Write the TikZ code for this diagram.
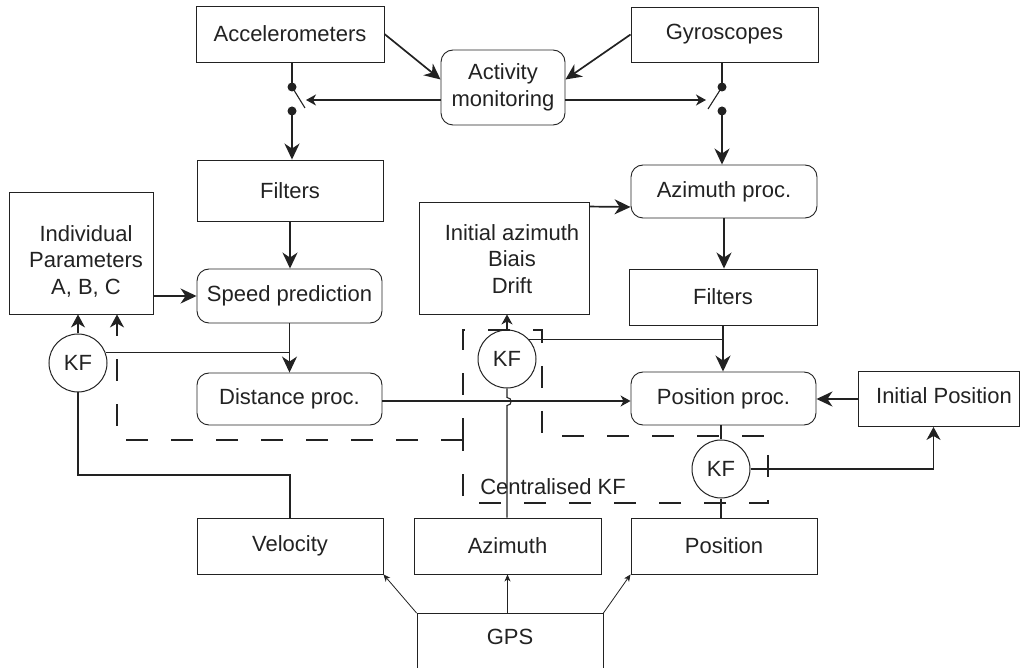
\documentclass[tikz,border=0pt]{standalone}
\usepackage{fontspec}
\setmainfont{Liberation Sans}
\usetikzlibrary{arrows.meta,calc}
\newcommand\dfont{\fontsize{22}{26.5}\selectfont}
\definecolor{ink}{HTML}{222222}
\begin{document}
\begin{tikzpicture}[x=1pt,y=-1pt, color=ink,
  box/.style={draw, line width=0.9pt, inner sep=0pt, align=center, font=\dfont},
  rbox/.style={box, rounded corners=12pt},
  kfn/.style={draw, circle, line width=1pt, minimum size=58pt, inner sep=0pt, font=\dfont},
  txt/.style={inner sep=0pt, align=center, font=\dfont},
  ln/.style={line width=1.1pt},
  bigarr/.style={line width=1.7pt, -{Stealth[length=16pt,width=15pt,inset=5pt]}},
  midarr/.style={line width=1.1pt, -{Stealth[length=13pt,width=14pt,inset=4pt]}},
  smallarr/.style={line width=1.1pt, -{Stealth[length=10pt,width=11pt,inset=3pt]}},
  tinyarr/.style={line width=0.8pt, -{Stealth[length=7pt,width=6pt,inset=2pt]}},
  dsh/.style={line width=1.4pt, dash pattern=on 22pt off 23pt},
  dot/.style={circle, fill, inner sep=0pt, minimum size=9pt},
]
\useasboundingbox (0,0) rectangle (1021,668);

% boxes
\node[box, minimum width=188pt, minimum height=56pt] (acc) at (290,34) {Accelerometers};
\node[box, minimum width=187pt, minimum height=55pt] (gyro) at (724.5,34.5) {Gyroscopes};
\node[rbox, minimum width=124pt, minimum height=75pt] (act) at (503,87.5) {Activity\\monitoring};
\node[box, minimum width=186pt, minimum height=61pt] (filt1) at (290,190.5) {Filters};
\node[box, minimum width=144pt, minimum height=122pt] (ind) at (81,253) {};
\node[txt] (indt) at (86,261) {Individual\\Parameters\\A, B, C};
\node[rbox, minimum width=185pt, minimum height=54pt] (speed) at (289.5,296) {Speed prediction};
\node[rbox, minimum width=185pt, minimum height=52pt] (dist) at (289.5,399) {Distance proc.};
\node[box, minimum width=170pt, minimum height=112pt] (inaz) at (504,258) {};
\node[txt] (inazt) at (512,259) {Initial azimuth\\Biais\\Drift};
\node[rbox, minimum width=186pt, minimum height=53pt] (az) at (724,191.5) {Azimuth proc.};
\node[box, minimum width=188pt, minimum height=56pt] (filt2) at (723,297) {Filters};
\node[rbox, minimum width=185pt, minimum height=53pt] (pos) at (723.5,398.5) {Position proc.};
\node[box, minimum width=161pt, minimum height=55pt] (inpos) at (938.5,399) {};
\node[txt] (inpost) at (944,396) {Initial Position};
\node[kfn] (kf1) at (78,363) {KF};
\node[kfn] (kf2) at (507,359) {KF};
\node[kfn] (kf3) at (721,469) {KF};
\node[box, minimum width=186pt, minimum height=56pt] (vel) at (290,546) {Velocity};
\node[box, minimum width=187pt, minimum height=56pt] (gaz) at (507.5,546) {Azimuth};
\node[box, minimum width=186pt, minimum height=56pt] (gpos) at (724,546) {Position};
\node[box, anchor=north, minimum width=186pt, minimum height=120pt] (gps) at (510,613) {};
\node[txt] (gpst) at (510,637) {GPS};
\node[txt] (cent) at (553,487) {Centralised KF};

% switches
\node[dot] (s1a) at (292,87) {};
\node[dot] (s1b) at (292,111) {};
\coordinate (s1c) at (305,108);
\coordinate (s1t) at (306,100);
\draw[ln] (s1a |- acc.south) -- (s1a.center);
\draw[ln] (s1a.center) -- (s1c);
\draw[smallarr] ([yshift=-12.5pt]act.west) -- (s1t);
\draw[bigarr] (s1b.center) -- (s1b |- filt1.north);

\node[dot] (s2a) at (722,87) {};
\node[dot] (s2b) at (722,111) {};
\coordinate (s2c) at (708,109);
\coordinate (s2t) at (706,100);
\draw[ln] (s2a |- gyro.south) -- (s2a.center);
\draw[ln] (s2c) -- (s2a.center);
\draw[smallarr] ([yshift=-12.5pt]act.east) -- (s2t);
\draw[bigarr] (s2b.center) -- (s2b |- az.north);

% top arrows
\draw[bigarr] (acc.east) -- ([yshift=8pt]act.west);
\draw[bigarr] (gyro.west) -- ([yshift=8pt]act.east);

% left column
\draw[bigarr] (filt1.south) -- (filt1.south |- speed.north);
\draw[bigarr] (ind.east |- speed.west) -- (speed.west);
\draw[bigarr] (speed.south) -- (speed.south |- dist.north);
\draw[ln] (kf1.20) -- (kf1.20 -| speed.south);
\draw[midarr] (kf1.north) -- (kf1.north |- ind.south);
\coordinate (vj) at (290,475);
\draw[ln] (vel.north) -- (vj) -| (kf1.south);

% dashed centralised KF
\coordinate (d1) at (463,440);
\coordinate (d2) at (117,440);
\draw[dsh, -{Stealth[length=13pt,width=14pt,inset=4pt]}] (d1) -- (d2) -- (d2 |- ind.south);
\draw[dsh] (463,440) -- (463,330) -- (542,330) -- (542,436) -- (768,436) -- (768,503) -- (463,503) -- (463,440);

% middle
\draw[smallarr] (kf2.north) -- (kf2.north |- inaz.south);
\draw[ln] (kf2.41) -- (kf2.41 -| filt2.south);
\coordinate (h1) at (507,397.5);
\coordinate (h2) at (507,405.5);
\draw[ln] (kf2.south) -- (h1) .. controls (512.5,397.5) and (512.5,405.5) .. (h2) -- (kf2.south |- gaz.north);
\draw[smallarr] ([yshift=-2pt]dist.east) -- ([yshift=-2.5pt]pos.west);
\draw[bigarr] ([yshift=-5pt]inaz.north east) -- ([yshift=-15.5pt]az.west);

% right column
\draw[bigarr] (az.south) -- (az.south |- filt2.north);
\draw[bigarr] (filt2.south) -- (filt2.south |- pos.north);
\draw[bigarr] (inpos.west) -- (inpos.west -| pos.east);
\draw[ln] (kf3.north |- pos.south) -- (kf3.north);
\draw[midarr] (kf3.east) -| ([xshift=-5pt]inpos.south);
\draw[ln] (kf3.south) -- (kf3.south |- gpos.north);

% GPS
\draw[tinyarr] (gps.north west) -- (vel.south east);
\draw[tinyarr] (gaz.south |- gps.north) -- (gaz.south);
\draw[tinyarr] (gps.north east) -- (gpos.south west);
\end{tikzpicture}
\end{document}
